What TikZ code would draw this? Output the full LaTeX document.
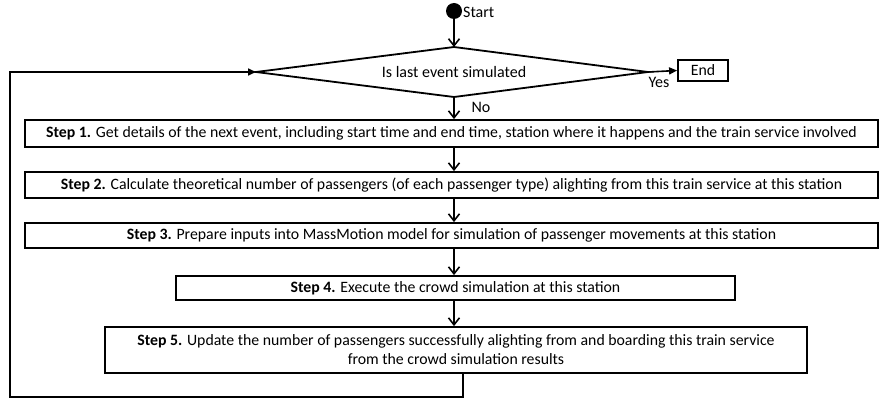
\documentclass[tikz,border=0pt]{standalone}
\usepackage{fontspec}
\setmainfont{Carlito}
\usetikzlibrary{arrows.meta}
\begin{document}
\begin{tikzpicture}[x=1pt,y=-1pt,
  box/.style={draw,line width=1.8pt,inner sep=0pt,align=center,font=\fontsize{15.8}{19}\selectfont},
  flow/.style={line width=1.6pt,-{Straight Barb[length=7pt,width=11pt,line width=1.6pt]}},
  solidarrow/.style={line width=1.6pt,-{Triangle[length=8pt,width=7pt]}},
  lbl/.style={font=\fontsize{16}{19}\selectfont,inner sep=0pt}]
\useasboundingbox (0,0) rectangle (879,401);
\node[circle,fill=black,minimum size=16pt,inner sep=0pt] (start) at (454,11) {};
\node[lbl,anchor=west] (startlbl) at (463,12) {Start};
\coordinate (dn) at (454,47);
\coordinate (ds) at (454,97);
\coordinate (dw) at (256,72);
\coordinate (de) at (648,72);
\draw[line width=1.8pt,line join=miter] (dn) -- (de) -- (ds) -- (dw) -- cycle;
\node[lbl] (dia) at (454,72) {Is last event simulated};
\node[box,minimum width=50pt,minimum height=21pt] (end) at (703,70.5) {End};
\node[box,minimum width=853pt,minimum height=27pt] (s1) at (451.5,133.5) {\textbf{Step 1.} Get details of the next event, including start time and end time, station where it happens and the train service involved};
\node[box,minimum width=853pt,minimum height=26pt] (s2) at (451.5,185) {\textbf{Step 2.} Calculate theoretical number of passengers (of each passenger type) alighting from this train service at this station};
\node[box,minimum width=853pt,minimum height=25pt] (s3) at (451.5,235.5) {\textbf{Step 3.} Prepare inputs into MassMotion model for simulation of passenger movements at this station};
\node[box,minimum width=559pt,minimum height=24pt] (s4) at (455.5,288) {\textbf{Step 4.} Execute the crowd simulation at this station};
\node[box,minimum width=702pt,minimum height=46pt] (s5) at (456,350) {\textbf{Step 5.} Update the number of passengers successfully alighting from and boarding this train service\\from the crowd simulation results};
\node[lbl] (yes) at (659,82) {Yes};
\node[lbl] (no) at (481,107) {No};
\coordinate (c1) at (463,397);
\coordinate (c2) at (10,397);
\coordinate (c3) at (10,72);
\draw[flow] (start) -- (dn);
\draw[solidarrow] (de) -- (end.west);
\draw[flow] (ds) -- (ds |- s1.north);
\draw[flow] (ds |- s1.south) -- (ds |- s2.north);
\draw[flow] (ds |- s2.south) -- (ds |- s3.north);
\draw[flow] (ds |- s3.south) -- (ds |- s4.north);
\draw[flow] (ds |- s4.south) -- (ds |- s5.north);
\draw[solidarrow] (c1 |- s5.south) -- (c1) -- (c2) -- (c3) -- (dw);
\end{tikzpicture}
\end{document}
